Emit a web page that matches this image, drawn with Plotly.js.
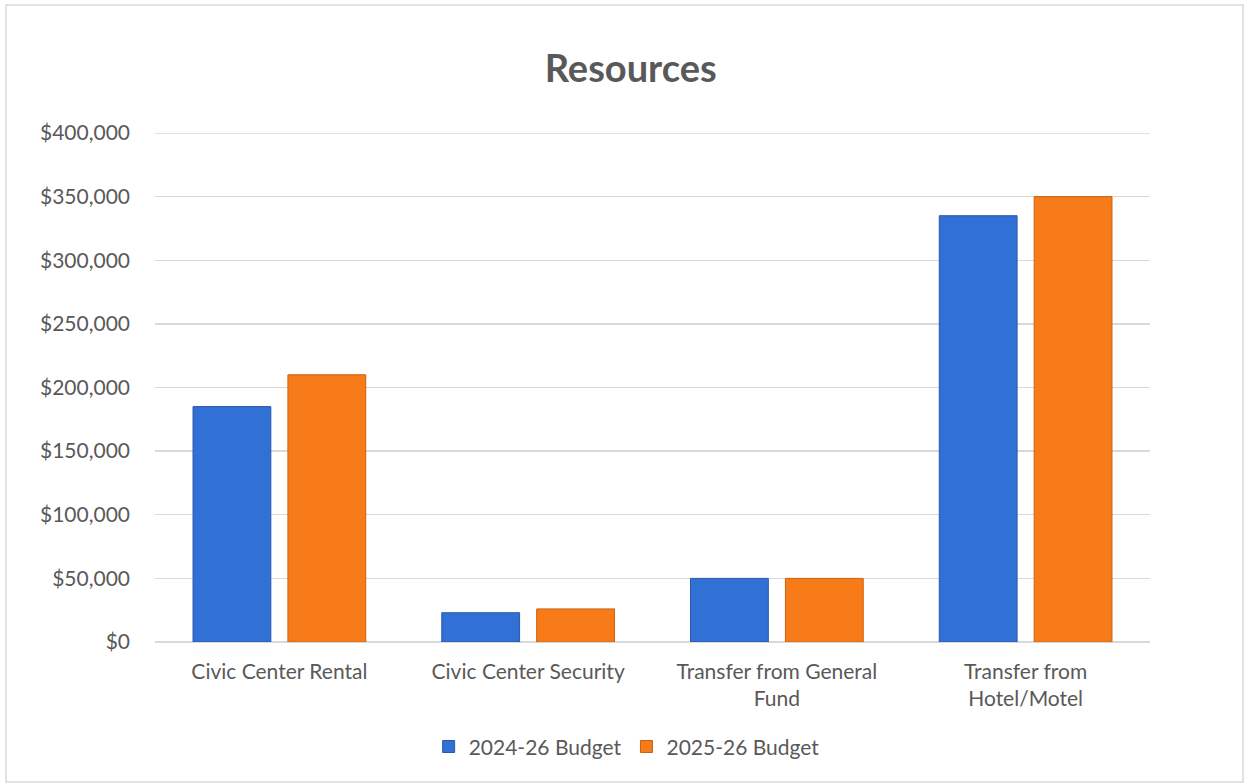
<!DOCTYPE html>
<html>
<head>
<meta charset="utf-8">
<script src="https://cdn.plot.ly/plotly-3.0.1.min.js"></script>
<style>html,body{margin:0;padding:0;background:#fff}#chart{width:1244px;height:783px}</style>
</head>
<body>
<div id="chart"></div>
<script>
const categories = ["Civic Center Rental", "Civic Center Security", "Transfer from General<br>Fund", "Transfer from<br>Hotel/Motel"];
const seriesNames = ["2024-26 Budget", "2025-26 Budget"];
const budget2024 = [185000, 23000, 50000, 335000];
const budget2025 = [210000, 26000, 50000, 350000];
const yTicks = [0, 50000, 100000, 150000, 200000, 250000, 300000, 350000, 400000];

const font = "Lato, 'Open Sans', sans-serif";
const traces = [
  {type: "bar", name: seriesNames[0], x: categories, y: budget2024,
   marker: {color: "#3170D5", line: {color: "#2A58A8", width: 1}}},
  {type: "bar", name: seriesNames[1], x: categories, y: budget2025,
   marker: {color: "#F77B19", line: {color: "#C9620F", width: 1}}}
];
const layout = {
  width: 1244, height: 783,
  margin: {l: 155, r: 94, t: 133, b: 141},
  paper_bgcolor: "#fff", plot_bgcolor: "#fff",
  title: {text: "<b>Resources</b>", x: 0.507, xanchor: "center", y: 0.912, yanchor: "middle",
          font: {family: font, size: 38, color: "#595959"}},
  font: {family: font, color: "#595959", size: 21},
  barmode: "group", bargap: 0.237, bargroupgap: 0.18,
  xaxis: {showgrid: false, showline: false, ticks: "", ticklabelstandoff: 15, tickfont: {size: 21, color: "#595959"}},
  yaxis: {range: [0, 400000], tickvals: yTicks, tickformat: "$,.0f",
          showgrid: true, gridcolor: "#D9D9D9", gridwidth: 1.3, zeroline: true, zerolinecolor: "#D9D9D9", zerolinewidth: 1.3,
          ticks: "", ticklabelstandoff: 24, tickfont: {size: 21, color: "#595959"}},
  showlegend: true,
  legend: {orientation: "h", x: 0.474, xanchor: "center", y: -0.206, yanchor: "middle",
           font: {size: 21, color: "#595959"}, itemwidth: 30, traceorder: "normal"},
  shapes: [
    {type: "line", xref: "paper", yref: "y", x0: 0, x1: 1, y0: 400000, y1: 400000,
     line: {color: "#D9D9D9", width: 1.3}},
    {type: "rect", xref: "paper", yref: "paper", x0: -0.1497, x1: 1.0935, y0: -0.275, y1: 1.2515,
     line: {color: "#D9D9D9", width: 1.5}, fillcolor: "rgba(0,0,0,0)"}]
};
Plotly.newPlot("chart", traces, layout, {displayModeBar: false, staticPlot: true});
</script>
</body>
</html>
